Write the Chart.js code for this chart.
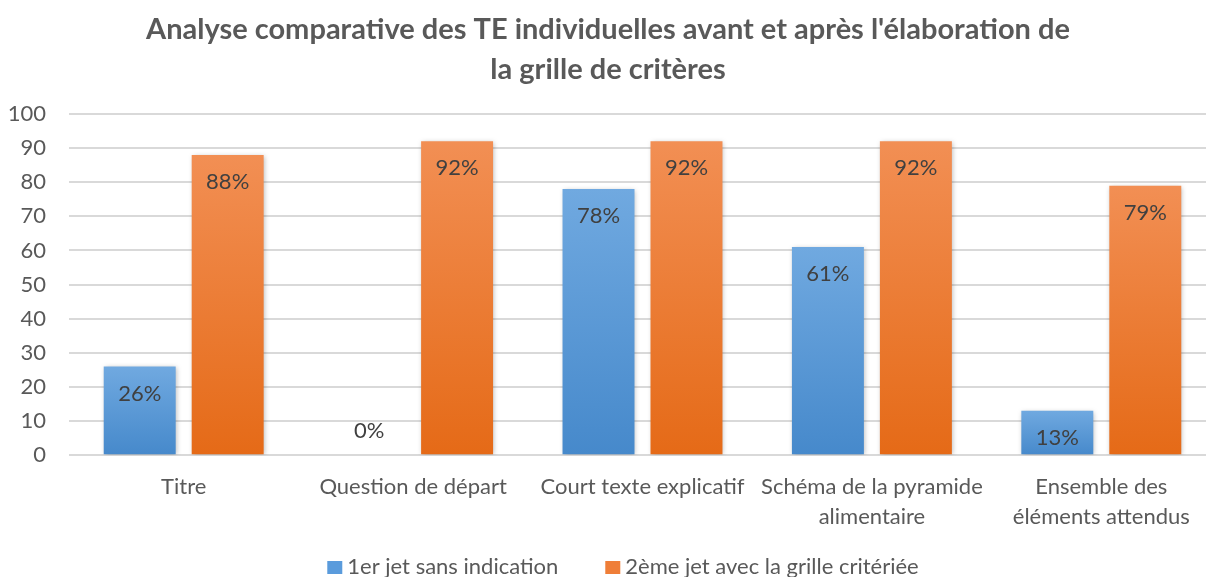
<!DOCTYPE html>
<html>
<head>
<meta charset="utf-8">
<script src="https://cdn.jsdelivr.net/npm/chart.js@4.4.0/dist/chart.umd.min.js"></script>
<style>
  html, body { margin: 0; padding: 0; background: #fff; overflow: hidden; }
  /* la zone de tracé d'origine déborde un peu à droite */
  #wrap { width: 1216px; height: 577px; position: relative; }
</style>
</head>
<body>
<div id="wrap"><canvas id="myChart"></canvas></div>
<script>
var categories = ['Titre', 'Question de départ', 'Court texte explicatif', ['Schéma de la pyramide', 'alimentaire'], ['Ensemble des', 'éléments attendus']];
var premierJet = [26, 0, 78, 61, 13];
var deuxiemeJet = [88, 92, 92, 92, 79];
var seriesNames = ['1er jet sans indication', '2ème jet avec la grille critériée'];
var titleLines = ["Analyse comparative des TE individuelles avant et après l'élaboration de", 'la grille de critères'];

var legendColors = ['#5a9bdc', '#ef7e38'];

// degrade vertical sur chaque barre
function barGradient(top, bottom) {
    return function(c) {
        var chart = c.chart;
        if (!chart.chartArea || c.type !== 'data') return bottom;
        var y = chart.scales.y;
        var y0 = y.getPixelForValue(0);
        var y1 = y.getPixelForValue(c.raw);
        if (y0 - y1 < 1) return bottom;
        var g = chart.ctx.createLinearGradient(0, y1, 0, y0);
        g.addColorStop(0, top);
        g.addColorStop(1, bottom);
        return g;
    };
}

// ombre des barres + etiquettes de valeurs + legende
var extras = {
    id: 'extras',
    beforeDatasetsDraw: function(chart) {
        var c = chart.ctx;
        c.save();
        c.shadowColor = 'rgba(0,0,0,0.28)';
        c.shadowBlur = 5;
        c.shadowOffsetX = 1;
        c.shadowOffsetY = 1;
    },
    afterDatasetsDraw: function(chart) {
        var c = chart.ctx;
        c.restore();
        c.save();
        c.font = '22px Lato';
        c.fillStyle = '#404040';
        c.textAlign = 'center';
        c.textBaseline = 'middle';
        chart.data.datasets.forEach(function(ds, i) {
            chart.getDatasetMeta(i).data.forEach(function(bar, j) {
                var v = ds.data[j];
                var y = v > 0 ? bar.y + 27 : bar.y - 24;
                c.fillText(v + '%', bar.x, y);
            });
        });
        c.restore();
    },
    afterDraw: function(chart) {
        var c = chart.ctx;
        c.save();
        c.font = '22px Lato';
        c.textBaseline = 'middle';
        var box = 15, gapText = 5, gapItem = 47, cy = 567;
        var widths = seriesNames.map(function(t) { return c.measureText(t).width; });
        var total = box * 2 + gapText * 2 + widths[0] + widths[1] + gapItem;
        var x = 623 - total / 2;
        seriesNames.forEach(function(t, i) {
            c.fillStyle = legendColors[i];
            c.fillRect(x, cy - 6, box, box - 2);
            c.fillStyle = '#595959';
            c.fillText(t, x + box + gapText, cy);
            x += box + gapText + widths[i] + gapItem;
        });
        c.restore();
    }
};

var ctx = document.getElementById('myChart').getContext('2d');
var chart = new Chart(ctx, {
    type: 'bar',
    data: {
        labels: categories,
        datasets: [{
            label: seriesNames[0],
            data: premierJet,
            backgroundColor: barGradient('#70a9e0', '#4689cb'),
            borderWidth: 0
        }, {
            label: seriesNames[1],
            data: deuxiemeJet,
            backgroundColor: barGradient('#f28f54', '#e56a17'),
            borderWidth: 0
        }]
    },
    options: {
        responsive: true,
        maintainAspectRatio: false,
        animation: false,
        layout: { padding: { left: 0, right: 0, top: 10, bottom: 36 } },
        datasets: {
            bar: { categoryPercentage: 0.767, barPercentage: 0.818 }
        },
        plugins: {
            title: {
                display: true,
                text: titleLines,
                color: '#595959',
                font: { family: 'Lato', size: 29, weight: 'bold', lineHeight: 1.38 },
                padding: { top: 0, bottom: 24 }
            },
            legend: { display: false },
            tooltip: { enabled: false }
        },
        scales: {
            x: {
                grid: { display: false },
                border: { display: false },
                ticks: {
                    color: '#595959',
                    font: { family: 'Lato', size: 22, lineHeight: 1.36 },
                    maxRotation: 0,
                    autoSkip: false,
                    padding: 9
                }
            },
            y: {
                min: 0,
                max: 100,
                afterFit: function(scale) { scale.width = 69; },
                ticks: {
                    stepSize: 10,
                    color: '#595959',
                    font: { family: 'Lato', size: 22 },
                    padding: 23
                },
                grid: { color: '#d9d9d9', lineWidth: 2, drawTicks: false },
                border: { display: false }
            }
        }
    },
    plugins: [extras]
});
</script>
</body>
</html>
